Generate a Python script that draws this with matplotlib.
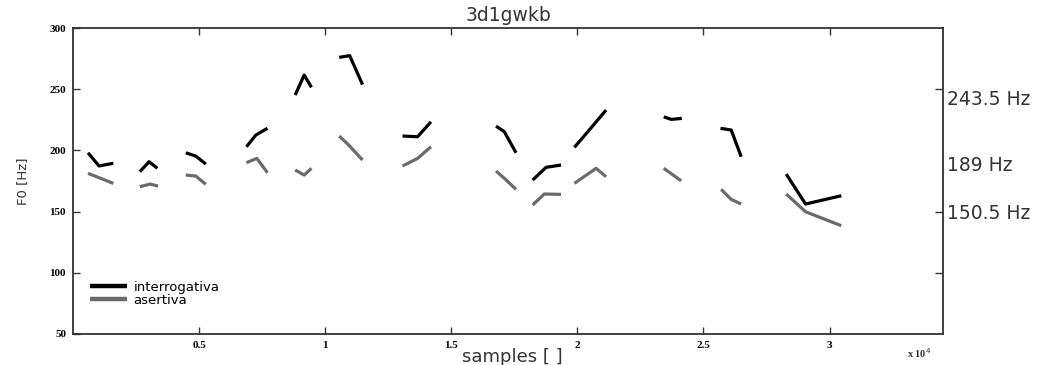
import numpy as np
import matplotlib
matplotlib.use('Agg')
import matplotlib.pyplot as plt

nan = np.nan

# F0 contours, one voiced stretch per segment, separated by nan
x_int = [595, 1032, 1599, nan,
         2647, 3016, 3345, nan,
         4472, 4869, 5266, nan,
         6877, 7250, 7710, nan,
         8810, 9167, 9456, nan,
         10556, 10972, 11480, nan,
         13067, 13663, 14194, nan,
         16774, 17103, 17567, nan,
         18226, 18758, 19353, nan,
         19881, 20510, 21139, nan,
         23425, 23718, 24139, nan,
         25675, 26099, 26496, nan,
         28282, 29048, 30464]
f0_int = [198.1, 187.3, 189.5, nan,
          182.6, 190.8, 185.4, nan,
          198.1, 195.4, 188.9, nan,
          203.0, 212.6, 218.1, nan,
          245.3, 261.6, 251.6, nan,
          276.1, 277.5, 253.8, nan,
          211.8, 211.2, 223.4, nan,
          219.9, 215.3, 198.1, nan,
          175.8, 186.2, 188.1, nan,
          202.5, 217.7, 233.0, nan,
          227.5, 225.4, 226.2, nan,
          218.1, 216.7, 194.9, nan,
          180.7, 156.2, 163.0]

x_ase = [595, 1599, nan,
         2647, 3056, 3373, nan,
         4472, 4869, 5266, nan,
         6877, 7290, 7710, nan,
         8810, 9167, 9456, nan,
         10556, 10933, 11480, nan,
         13067, 13663, 14194, nan,
         16774, 17103, 17567, nan,
         18226, 18690, 19353, nan,
         19881, 20742, 21139, nan,
         23425, 24115, nan,
         25702, 26099, 26496, nan,
         28282, 29048, 30464]
f0_ase = [181.3, 173.1, nan,
          170.3, 172.5, 170.9, nan,
          179.9, 179.1, 172.3, nan,
          190.0, 193.5, 181.8, nan,
          184.0, 179.9, 185.4, nan,
          211.8, 204.4, 192.2, nan,
          187.3, 193.5, 203.0, nan,
          183.2, 177.2, 168.2, nan,
          155.4, 164.4, 164.1, nan,
          173.1, 185.4, 178.5, nan,
          185.4, 175.2, nan,
          168.2, 160.0, 156.2, nan,
          164.4, 149.9, 138.5]

right_ticks = [243.5, 189, 150.5]
right_labels = ['243.5 Hz', '189 Hz', '150.5 Hz']
right_marks = [250, 150, 100]
x_ticks = [5000, 10000, 15000, 20000, 25000, 30000]
x_ticklabels = ['0.5', '1', '1.5', '2', '2.5', '3']
y_ticks = [50, 100, 150, 200, 250, 300]

fig = plt.figure(figsize=(10.49, 3.65), dpi=100)
ax = fig.add_axes([0.0696, 0.085, 0.8294, 0.838])

ax.plot(x_int, f0_int, color='black', lw=2.3, label='interrogativa',
        solid_capstyle='butt')
ax.plot(x_ase, f0_ase, color='#6b6b6b', lw=2.3, label='asertiva',
        solid_capstyle='butt')

ax.set_xlim(0, 34500)
ax.set_ylim(50, 300)

tickfont = dict(family='Liberation Serif', weight='bold', size=8)
ax.set_xticks(x_ticks)
ax.set_xticklabels(x_ticklabels, **tickfont)
ax.set_yticks(y_ticks)
ax.set_yticklabels([str(v) for v in y_ticks], **tickfont)
ax.tick_params(direction='in', length=5, width=1, top=True, right=False,
               color='#333333', pad=5)

for s in ax.spines.values():
    s.set_color('#333333')
    s.set_linewidth(1.3)

# right axis: labels at the marked F0 values, tick marks on the grid
ax2 = ax.twinx()
ax2.set_ylim(50, 300)
ax2.set_yticks(right_ticks)
ax2.set_yticklabels(right_labels, fontsize=13.5, color='#333333')
ax2.set_yticks(right_marks, minor=True)
ax2.tick_params(which='major', length=0, pad=3)
ax2.tick_params(which='minor', direction='in', length=6, width=1,
                color='#333333')
for s in ax2.spines.values():
    s.set_visible(False)

ax.set_title('3d1gwkb', fontsize=13.5, color='#333333', pad=5)
ax.set_xlabel('samples [ ]', fontsize=13, color='#333333')
ax.xaxis.set_label_coords(0.505, -0.045)
ax.set_ylabel('F0 [Hz]', fontsize=9.5, color='#333333')
ax.yaxis.set_label_coords(-0.05, 0.5)

fig.text(0.865, 0.02, r'x 10$^4$', fontsize=7.5, family='Liberation Serif',
         weight='bold', color='#333333')

leg = ax.legend(loc='center left', bbox_to_anchor=(0.012, 0.132),
                frameon=False, fontsize=9.5, handlelength=2.8,
                handletextpad=0.5, labelspacing=0.0, borderpad=0)
for h in leg.get_lines():
    h.set_linewidth(3.2)

fig.savefig('out.png', dpi=100)
